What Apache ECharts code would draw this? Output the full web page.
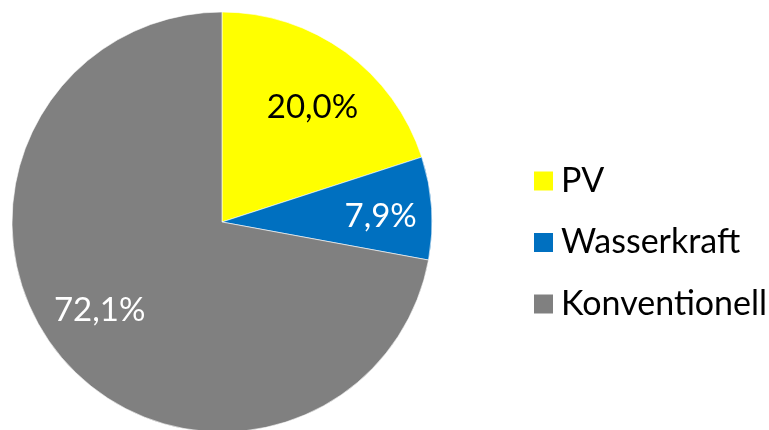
<!DOCTYPE html>
<html>
<head>
<meta charset="utf-8">
<script src="https://cdn.jsdelivr.net/npm/echarts@6/dist/echarts.min.js"></script>
<style>
html, body { margin: 0; padding: 0; background: #fff; }
#chart { width: 769px; height: 430px; }
</style>
</head>
<body>
<div id="chart"></div>
<script>
// Anteile Stromerzeugung
var categories = ['PV', 'Wasserkraft', 'Konventionell'];
var shares = [20.0, 7.9, 72.1];

var sliceColors = ['#FFFF00', '#0070C0', '#808080'];
var labelColors = ['#000000', '#ffffff', '#ffffff'];
// Feinkorrektur der Beschriftungsposition (px)
var labelShift = [[0, 10], [5, 5], [-4, -10]];

var font = 'Lato, "Open Sans", sans-serif';

var pieData = categories.map(function (name, i) {
    return { name: name, value: shares[i], itemStyle: { color: sliceColors[i] } };
});
// zweite, unsichtbare Serie nur fuer die Beschriftungen
var labelData = categories.map(function (name, i) {
    return { name: name, value: shares[i], label: { color: labelColors[i], offset: labelShift[i] } };
});

var chart = echarts.init(document.getElementById('chart'));
chart.setOption({
    animation: false,
    legend: {
        orient: 'vertical',
        left: 527,
        top: 159,
        itemWidth: 21,
        itemHeight: 21,
        itemGap: 27.5,
        icon: 'rect',
        selectedMode: false,
        data: categories,
        textStyle: {
            fontFamily: font,
            fontSize: 34,
            color: '#000',
            padding: [0, 0, 0, 2]
        }
    },
    series: [{
        type: 'pie',
        center: [222, 222],
        radius: [0, 210],
        startAngle: 90,
        clockwise: true,
        silent: true,
        label: { show: false },
        labelLine: { show: false },
        itemStyle: { borderColor: '#ffffff', borderWidth: 0.6 },
        data: pieData
    }, {
        type: 'pie',
        center: [222, 222],
        radius: [92, 210],
        startAngle: 90,
        clockwise: true,
        silent: true,
        itemStyle: { color: 'rgba(0,0,0,0)' },
        label: {
            show: true,
            position: 'inside',
            fontFamily: font,
            fontSize: 33,
            formatter: function (p) {
                return p.value.toFixed(1).replace('.', ',') + '%';
            }
        },
        labelLine: { show: false },
        data: labelData
    }]
});
</script>
</body>
</html>
